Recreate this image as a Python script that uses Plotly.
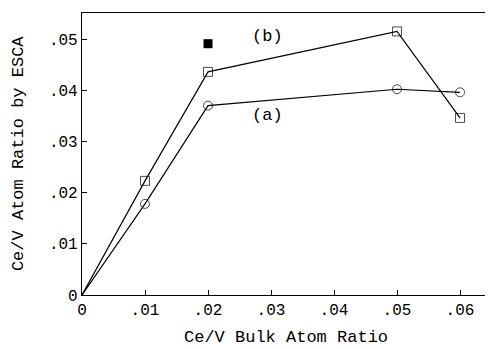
import plotly.graph_objects as go

x_vals = [0, 0.01, 0.02, 0.05, 0.06]
series_a = [0, 0.0178, 0.0370, 0.0402, 0.0396]
series_b = [0, 0.0223, 0.0436, 0.0515, 0.0346]
filled_x = [0.02]
filled_y = [0.0491]
x_ticks = [0, 0.01, 0.02, 0.03, 0.04, 0.05, 0.06]
x_tick_labels = ["0", ".01", ".02", ".03", ".04", ".05", ".06"]
y_ticks = [0, 0.01, 0.02, 0.03, 0.04, 0.05]
y_tick_labels = ["0", ".01", ".02", ".03", ".04", ".05"]

font = "Liberation Mono, Courier New, monospace"
msize = [0, 9, 9, 9, 9]

fig = go.Figure()
fig.add_trace(go.Scatter(x=x_vals, y=series_a, mode="lines+markers",
                         line=dict(color="black", width=1.2),
                         marker=dict(symbol="circle-open", size=msize, color="black", line=dict(width=1)),
                         cliponaxis=False, showlegend=False))
fig.add_trace(go.Scatter(x=x_vals, y=series_b, mode="lines+markers",
                         line=dict(color="black", width=1.2),
                         marker=dict(symbol="square-open", size=msize, color="black", line=dict(width=1)),
                         cliponaxis=False, showlegend=False))
fig.add_trace(go.Scatter(x=filled_x, y=filled_y, mode="markers",
                         marker=dict(symbol="square", size=9, color="black"),
                         showlegend=False))

fig.add_annotation(x=0.0295, y=0.0506, text="(b)", showarrow=False,
                   font=dict(family=font, size=17, color="black"))
fig.add_annotation(x=0.0295, y=0.0350, text="(a)", showarrow=False,
                   font=dict(family=font, size=17, color="black"))
fig.add_annotation(x=0.5, y=-0.149, xref="paper", yref="paper", text="Ce/V Bulk Atom Ratio",
                   showarrow=False, yanchor="middle", font=dict(family=font, size=17, color="black"))
fig.add_annotation(x=-0.157, y=0.5, xref="paper", yref="paper", text="Ce/V Atom Ratio by ESCA",
                   showarrow=False, textangle=-90, xanchor="center",
                   font=dict(family=font, size=17, color="black"))

fig.update_layout(
    width=485, height=341,
    margin=dict(l=74, r=4, t=5, b=54),
    paper_bgcolor="white", plot_bgcolor="white",
    font=dict(family=font, size=15, color="black"),
    xaxis=dict(range=[0, 0.0646], tickvals=x_ticks, ticktext=x_tick_labels,
               showline=True, linecolor="black", linewidth=1.2, mirror=True,
               ticks="inside", ticklen=5, tickcolor="black", showgrid=False, zeroline=False,
               tickfont=dict(size=16), automargin=False),
    yaxis=dict(range=[0, 0.0551], tickvals=y_ticks, ticktext=y_tick_labels,
               showline=True, linecolor="black", linewidth=1.2, mirror=True,
               ticks="inside", ticklen=5, tickcolor="black", showgrid=False, zeroline=False,
               tickfont=dict(size=16), automargin=False),
)

fig.write_html("out.html")
